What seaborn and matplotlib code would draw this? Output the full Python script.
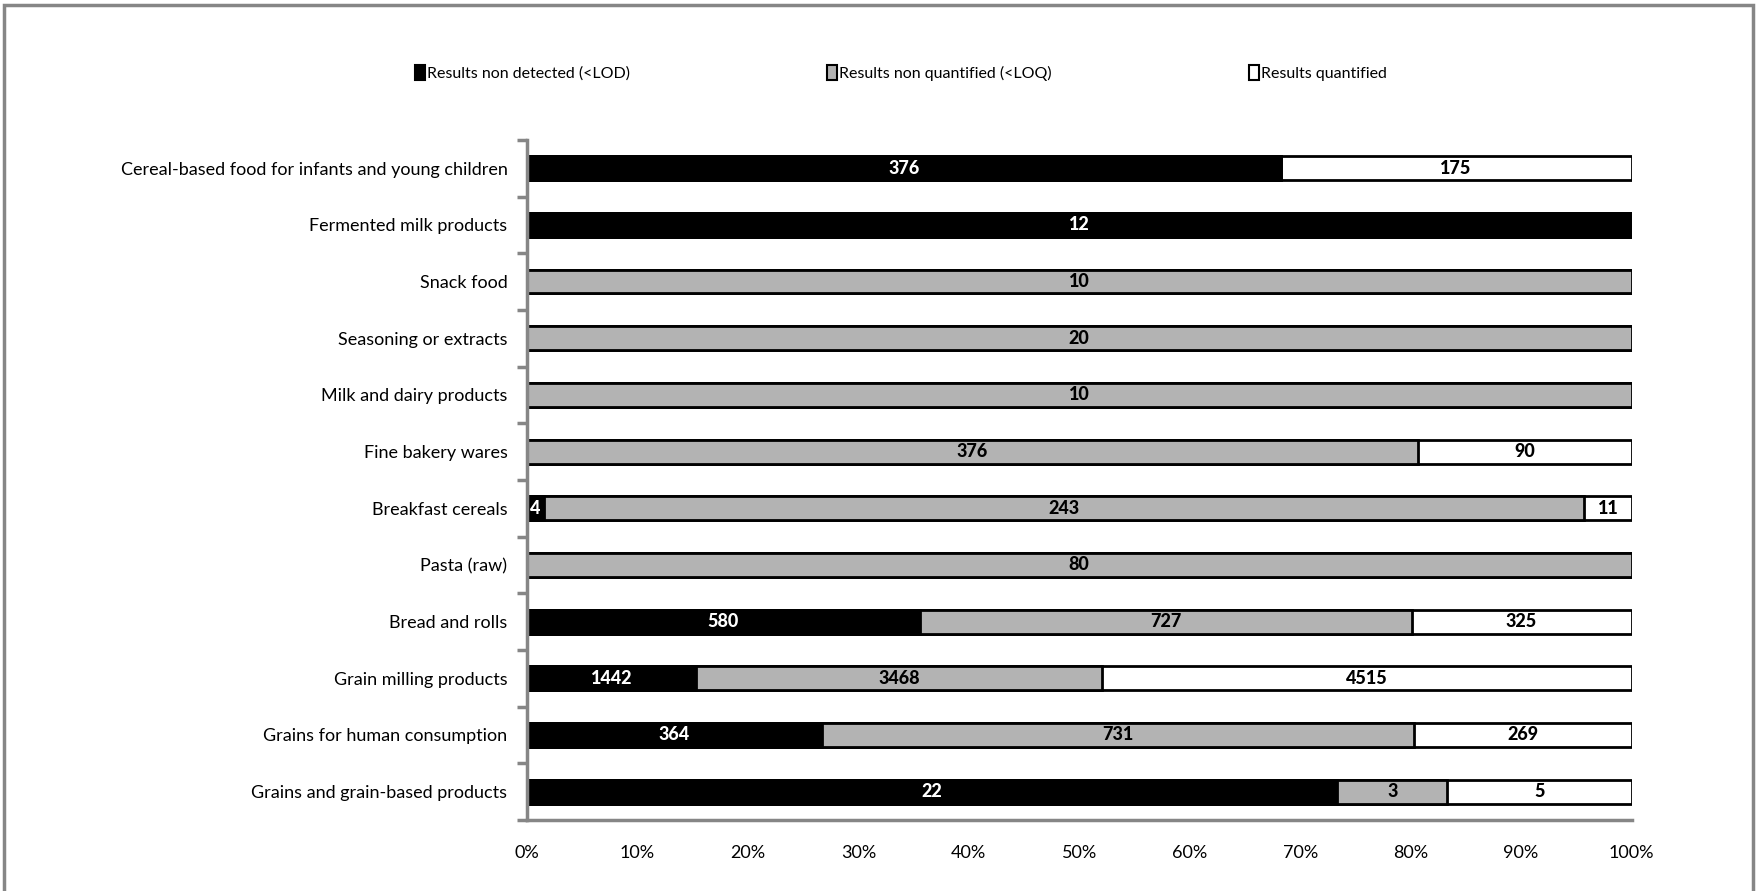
import matplotlib
matplotlib.use("Agg")
import matplotlib.pyplot as plt
import matplotlib.patches as mpatches
import seaborn as sns
import pandas as pd
import numpy as np

categories = [
    "Cereal-based food for infants and young children",
    "Fermented milk products",
    "Snack food",
    "Seasoning or extracts",
    "Milk and dairy products",
    "Fine bakery wares",
    "Breakfast cereals",
    "Pasta (raw)",
    "Bread and rolls",
    "Grain milling products",
    "Grains for human consumption",
    "Grains and grain-based products",
]
non_detected = [376, 12, 0, 0, 0, 0, 4, 0, 580, 1442, 364, 22]
non_quantified = [0, 0, 10, 20, 10, 376, 243, 80, 727, 3468, 731, 3]
quantified = [175, 0, 0, 0, 0, 90, 11, 0, 325, 4515, 269, 5]
series_names = ["Results non detected (<LOD)", "Results non quantified (<LOQ)", "Results quantified"]
colors = ["#000000", "#b3b3b3", "#ffffff"]

sns.set_theme(style="white")
plt.rcParams["font.family"] = ["Lato", "DejaVu Sans"]
plt.rcParams["text.color"] = "black"
plt.rcParams["xtick.color"] = "black"
plt.rcParams["ytick.color"] = "black"

nd = np.array(non_detected, float)
nq = np.array(non_quantified, float)
q = np.array(quantified, float)
tot = nd + nq + q
p1 = nd / tot * 100
p2 = (nd + nq) / tot * 100
p3 = (nd + nq + q) / tot * 100

df = pd.DataFrame({"cat": categories, "p1": p1, "p2": p2, "p3": p3})

fig = plt.figure(figsize=(17.6, 8.91), dpi=100)
ax = fig.add_axes([0.2994, 0.0797, 0.6276, 0.7633])

for col, c in [("p3", colors[2]), ("p2", colors[1]), ("p1", colors[0])]:
    sns.barplot(data=df, x=col, y="cat", orient="h", color=c, ax=ax,
                width=0.42, edgecolor="black", linewidth=2, saturation=1)
for patch in ax.patches:
    if patch.get_width() <= 0:
        patch.set_visible(False)

FS = 13
ax.set_xlim(0, 100)
ax.set_ylim(len(categories) - 0.5, -0.5)
ax.set_xlabel("")
ax.set_ylabel("")
ax.set_xticks(np.arange(0, 101, 10))
ax.set_xticklabels([f"{v}%" for v in range(0, 101, 10)], fontsize=FS)
ax.set_yticks(np.arange(len(categories)))
ax.set_yticklabels(categories, fontsize=FS)
ax.tick_params(axis="y", which="major", left=True, length=0, pad=14, labelcolor="black")
ax.tick_params(axis="x", which="major", bottom=True, length=0, pad=18, labelcolor="black")

for s in ["top", "right"]:
    ax.spines[s].set_visible(False)
for s in ["left", "bottom"]:
    ax.spines[s].set_color("#868686")
    ax.spines[s].set_linewidth(2.5)

ax.set_yticks(np.arange(-0.5, len(categories), 1), minor=True)
ax.set_xticks(np.arange(0, 101, 10), minor=True)
ax.tick_params(axis="y", which="minor", left=True, length=7, width=2.5, color="#868686", direction="out")
ax.tick_params(axis="x", which="minor", bottom=True, length=7, width=2.5, color="#868686", direction="out")

for i in range(len(categories)):
    starts = [0, p1[i], p2[i]]
    ends = [p1[i], p2[i], p3[i]]
    vals = [nd[i], nq[i], q[i]]
    tcols = ["white", "black", "black"]
    for s, e, v, tc in zip(starts, ends, vals, tcols):
        if v > 0:
            ax.text((s + e) / 2, i, f"{int(v)}", ha="center", va="center",
                    color=tc, fontsize=FS, fontweight=900)

handles = [mpatches.Patch(facecolor=c, edgecolor="black", linewidth=1.5, label=n)
           for c, n in zip(colors, series_names)]
fig.legend(handles=handles, loc="center", bbox_to_anchor=(0.512, 0.918), ncol=3,
           frameon=False, fontsize=11.5, handlelength=0.6, handleheight=1.0,
           handletextpad=0.15, columnspacing=12.35, labelcolor="black")

fig.add_artist(mpatches.Rectangle((0.002, -0.01), 0.994, 1.004, transform=fig.transFigure,
                                  fill=False, edgecolor="#868686", linewidth=2.5))

fig.savefig("out.png", dpi=100)
